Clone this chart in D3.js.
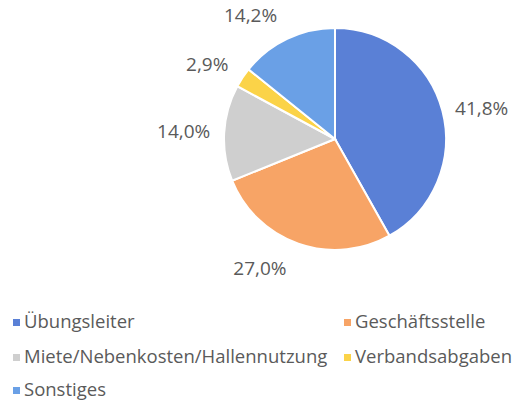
<!DOCTYPE html>
<html><head><meta charset="utf-8">
<script src="https://cdn.jsdelivr.net/npm/d3@7"></script>
<style>body{margin:0;background:#fff;} text{font-family:"Open Sans",sans-serif;fill:#5a5a5a;}</style>
</head><body>
<svg id="c" width="515" height="409"></svg>
<script>
const categories = ["Übungsleiter","Geschäftsstelle","Miete/Nebenkosten/Hallennutzung","Verbandsabgaben","Sonstiges"];
const values = [41.8, 27.0, 14.0, 2.9, 14.2];
const labels = ["41,8%","27,0%","14,0%","2,9%","14,2%"];
const colors = ["#5a80d6","#f7a466","#cfcfcf","#fbd348","#6aa0e6"];

const svg = d3.select("#c");
const cx = 335, cy = 139, r = 111;
const pie = d3.pie().sort(null).value(d => d)(values);
const arc = d3.arc().innerRadius(0).outerRadius(r);
const g = svg.append("g").attr("transform", `translate(${cx},${cy})`);
g.selectAll("path").data(pie).enter().append("path")
  .attr("d", arc).attr("fill", (d,i) => colors[i])
  .attr("stroke", "#fff").attr("stroke-width", 2);

// label layout: box placed outward from a point on radius r+gap (Excel-like "outside end"), with best-fit nudges
const gap = 14, fs = 19;
const nudgeX = [0, -25, 0, -6, -19];
const nudgeY = [4, 0, 0, 1, 0];
g.selectAll("text.lbl").data(pie).enter().append("text")
  .attr("class","lbl")
  .style("font-size", fs + "px")
  .attr("text-anchor","middle").attr("dy","0.35em")
  .text((d,i) => labels[i])
  .each(function(d,i){
    const a = (d.startAngle + d.endAngle)/2;
    const w = this.getComputedTextLength(), h = fs*1.3;
    const px = (r+gap)*Math.sin(a), py = -(r+gap)*Math.cos(a);
    const x = px + Math.sin(a)*w/2 + nudgeX[i];
    const y = py - Math.cos(a)*h/2 + nudgeY[i];
    d3.select(this).attr("x", x).attr("y", y);
  });

const legPos = [[13,322],[344,322],[13,357],[344,357],[13,390]];
const lg = svg.append("g");
categories.forEach((c,i) => {
  const [x,y] = legPos[i];
  lg.append("rect").attr("x",x).attr("y",y-3).attr("width",7).attr("height",7).attr("fill",colors[i]);
  lg.append("text").attr("x",x+11).attr("y",y).attr("dy","0.35em").style("font-size","18.5px").text(c);
});
</script>
</body></html>
